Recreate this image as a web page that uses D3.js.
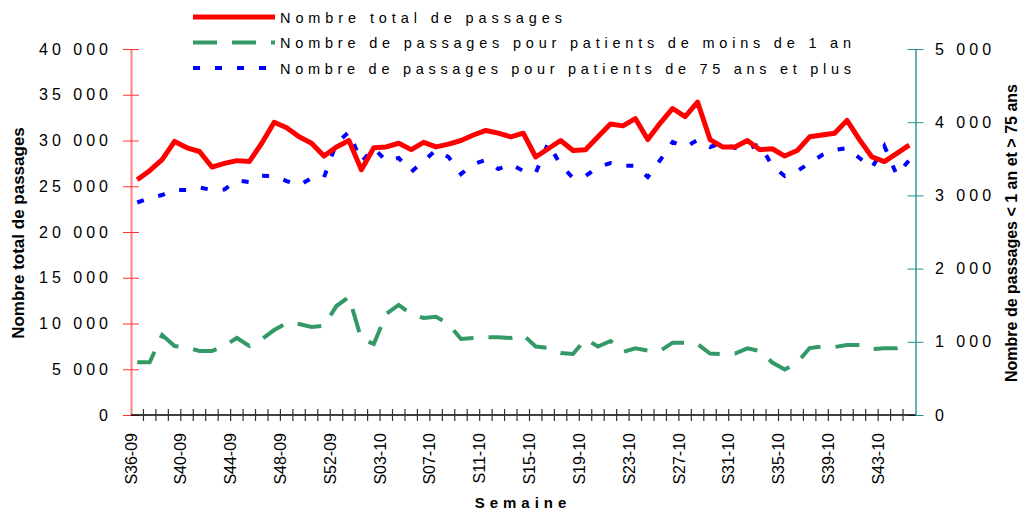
<!DOCTYPE html>
<meta charset="UTF-8">
<head>
  <style>
    body { margin: 0; background: #fff; }
    text { font-family: "Liberation Sans", Arial, sans-serif; fill: #000; }
    .tick-lab { font-size: 16px; letter-spacing: 4px; }
    .wk-lab { font-size: 16px; }
    .title { font-size: 17px; font-weight: bold; }
    .leg { font-size: 14.5px; }
  </style>
</head>
<body>
  <div id="chart"></div>
  <script src="https://d3js.org/d3.v7.min.js"></script>
  <script>
    // weeks S36-09 .. S45-10 (2009 has 53 weeks)
    var weeks = [];
    for (var w = 36; w <= 53; w++) weeks.push("S" + w + "-09");
    for (var w = 1; w <= 45; w++) weeks.push("S" + (w < 10 ? "0" + w : w) + "-10");

    // Nombre total de passages (left axis)
    var totalPassages = [
      25700, 26700, 27900, 29900, 29200, 28800, 27100, 27500, 27800, 27700,
      29700, 32000, 31400, 30400, 29700, 28300, 29300, 30000, 26800, 29200,
      29300, 29700, 29000, 29800, 29300, 29600, 30000, 30600, 31100, 30800,
      30400, 30800, 28200, 29100, 30000, 28900, 29000, 30400, 31800, 31600,
      32400, 30100, 31900, 33500, 32600, 34200, 30100, 29300, 29300, 30000,
      29000, 29100, 28300, 28900, 30400, 30600, 30800, 32200, 30100, 28200,
      27700, 28600, 29500
    ];
    // moins de 1 an (right axis)
    var moins1an = [
      720, 720, 1093, 943, 922, 874, 874, 943, 1052, 943,
      1038, 1161, 1257, 1243, 1202, 1220, 1489, 1612, 1038, 970,
      1380, 1503, 1380, 1325, 1343, 1243, 1038, 1052, 1061, 1061,
      1052, 1093, 936, 915, 847, 833, 1038, 936, 1011, 861,
      911, 881, 878, 988, 988, 970, 840, 833, 840, 911,
      874, 717, 622, 717, 915, 936, 929, 956, 956, 902,
      911, 911, 949
    ];
    // 75 ans et plus (right axis)
    var plus75ans = [
      2903, 2964, 3005, 3074, 3074, 3108, 3074, 3080, 3203, 3183,
      3269, 3265, 3196, 3135, 3237, 3247, 3716, 3866, 3456, 3647,
      3470, 3511, 3320, 3470, 3620, 3524, 3292, 3429, 3483, 3360,
      3429, 3333, 3306, 3716, 3415, 3237, 3265, 3388, 3442, 3406,
      3406, 3251, 3483, 3729, 3661, 3757, 3661, 3716, 3647, 3634,
      3702, 3401, 3265, 3333, 3442, 3552, 3620, 3647, 3511, 3374,
      3675, 3278, 3483
    ];
    var leftTicks = d3.range(0, 40001, 5000);
    var rightTicks = d3.range(0, 5001, 1000);

    var width = 1022, height = 510;
    var x0 = 131, x1 = 915.5, yTop = 49, yBot = 415;

    var svg = d3.select("#chart").append("svg")
      .attr("width", width).attr("height", height);

    var x = d3.scaleBand().domain(weeks).range([x0, x1]).padding(0);
    var yL = d3.scaleLinear().domain([0, 40000]).range([yBot, yTop]);
    var yR = d3.scaleLinear().domain([0, 5000]).range([yBot, yTop]);
    var fmt = d3.formatLocale({ decimal: ",", thousands: " ", grouping: [3], currency: ["", ""] }).format(",");

    function cx(d, i) { return x(weeks[i]) + x.bandwidth() / 2; }

    // left axis
    var gL = svg.append("g").attr("transform", "translate(" + x0 + ",0)")
      .call(d3.axisLeft(yL).tickValues(leftTicks).tickFormat(fmt).tickSizeOuter(0));
    gL.select(".domain").attr("stroke", "#ff8080").attr("stroke-width", 2);
    gL.selectAll(".tick line").attr("x1", -8).attr("x2", 8).attr("stroke", "#ff3333");
    gL.selectAll(".tick text").attr("class", "tick-lab").attr("x", -19).attr("dy", "0.32em")
      .attr("fill", "#000");
    gL.attr("font-family", null).attr("font-size", null);

    // right axis
    var gR = svg.append("g").attr("transform", "translate(" + x1 + ",0)")
      .call(d3.axisRight(yR).tickValues(rightTicks).tickFormat(fmt).tickSizeOuter(0));
    gR.select(".domain").attr("stroke", "#66b2b2").attr("stroke-width", 2);
    gR.selectAll(".tick line").attr("x1", -8).attr("x2", 8).attr("stroke", "#2a9090");
    gR.selectAll(".tick text").attr("class", "tick-lab").attr("x", 19.5).attr("dy", "0.32em")
      .attr("fill", "#000");
    gR.attr("font-family", null).attr("font-size", null);

    // x axis: line, ticks between weeks, labels every 4 weeks
    var gX = svg.append("g");
    gX.append("line").attr("x1", x0).attr("x2", x1).attr("y1", yBot).attr("y2", yBot)
      .attr("stroke", "#000").attr("stroke-width", 1.5);
    var bounds = weeks.map(function (w) { return x(w); }).concat([x1]);
    gX.selectAll("line.xt").data(bounds.slice(1, -1)).enter().append("line")
      .attr("class", "xt")
      .attr("x1", function (d) { return d; }).attr("x2", function (d) { return d; })
      .attr("y1", yBot - 6).attr("y2", yBot + 6)
      .attr("stroke", "#333").attr("stroke-width", 1.2);
    gX.selectAll("text.wk").data(weeks.filter(function (w, i) { return i % 4 === 0; }))
      .enter().append("text")
      .attr("class", "wk-lab")
      .attr("text-anchor", "end")
      .attr("dy", "0.35em")
      .attr("transform", function (d) { return "translate(" + x(d) + ",433) rotate(-90)"; })
      .text(function (d) { return d; });

    // lines
    var lineL = d3.line().x(cx).y(function (d) { return yL(d); });
    var lineR = d3.line().x(cx).y(function (d) { return yR(d); });

    svg.append("path").datum(moins1an).attr("d", lineR)
      .attr("fill", "none").attr("stroke", "#339966").attr("stroke-width", 4)
      .attr("stroke-dasharray", "24,15");
    svg.append("path").datum(plus75ans).attr("d", lineR)
      .attr("fill", "none").attr("stroke", "#0000ff").attr("stroke-width", 4)
      .attr("stroke-dasharray", "7,15");
    svg.append("path").datum(totalPassages).attr("d", lineL)
      .attr("fill", "none").attr("stroke", "#ff0000").attr("stroke-width", 5)
      .attr("stroke-linejoin", "round");

    // axis titles
    svg.append("text").attr("class", "title").attr("text-anchor", "middle")
      .attr("transform", "translate(24,233) rotate(-90)")
      .text("Nombre total de passages");
    svg.append("text").attr("class", "title").attr("text-anchor", "middle")
      .attr("transform", "translate(1017,233) rotate(-90)")
      .style("font-size", "16px")
      .text("Nombre de passages < 1 an et > 75 ans");
    svg.append("text").attr("class", "title").attr("text-anchor", "middle")
      .attr("x", 523).attr("y", 508).style("font-size", "15px").style("letter-spacing", "5px")
      .text("Semaine");

    // legend
    var legend = [
      { name: "Nombre total de passages", color: "#ff0000", w: 5, dash: null, len: 282 },
      { name: "Nombre de passages pour patients de moins de 1 an", color: "#339966", w: 4, dash: "24,15", len: 571 },
      { name: "Nombre de passages pour patients de 75 ans et plus", color: "#0000ff", w: 4, dash: "7,15", len: 571 }
    ];
    var lg = svg.selectAll("g.leg").data(legend).enter().append("g")
      .attr("transform", function (d, i) { return "translate(0," + (17 + i * 25.5) + ")"; });
    lg.append("line").attr("x1", 193).attr("x2", 275).attr("y1", 0).attr("y2", 0)
      .attr("stroke", function (d) { return d.color; })
      .attr("stroke-width", function (d) { return d.w; })
      .attr("stroke-dasharray", function (d) { return d.dash; });
    lg.append("text").attr("class", "leg").attr("x", 280).attr("y", 5.5)
      .attr("textLength", function (d) { return d.len; })
      .attr("lengthAdjust", "spacing")
      .text(function (d) { return d.name; });
  </script>
</body>
